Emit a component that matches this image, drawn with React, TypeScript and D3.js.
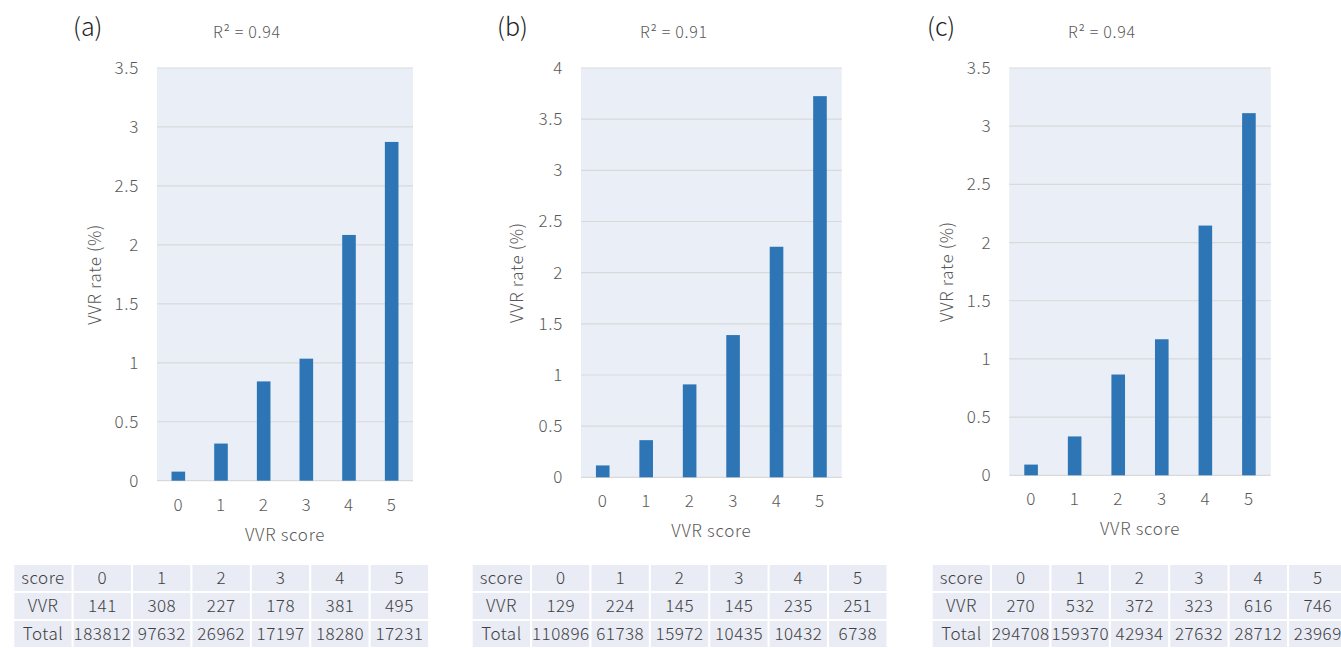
import React, {useEffect, useRef} from 'react';
import * as d3 from 'd3';

// VVR score categories
const scores = ['0', '1', '2', '3', '4', '5'];

// VVR rate (%) per score
const rateA = [0.077, 0.315, 0.842, 1.035, 2.084, 2.873];
const rateB = [0.116, 0.363, 0.908, 1.390, 2.253, 3.725];
const rateC = [0.092, 0.334, 0.866, 1.169, 2.146, 3.112];

// table rows
const vvrA = [141, 308, 227, 178, 381, 495];
const totalA = [183812, 97632, 26962, 17197, 18280, 17231];
const vvrB = [129, 224, 145, 145, 235, 251];
const totalB = [110896, 61738, 15972, 10435, 10432, 6738];
const vvrC = [270, 532, 372, 323, 616, 746];
const totalC = [294708, 159370, 42934, 27632, 28712, 23969];

const panelLabels = ['(a)', '(b)', '(c)'];
const r2Labels = ['0.94', '0.91', '0.94'];
const yMaxes = [3.5, 4, 3.5];

const FONT = '"Noto Sans CJK JP", "Noto Sans", sans-serif';
const GREY = '#595959';

// layout of each panel (pixels)
const layout = [
    {x0: 157, x1: 413, top: 68, bottom: 480.7, lab: 73, r2: 213, ytitle: 95, tx: 13.3},
    {x0: 581, x1: 841.7, top: 68, bottom: 477.3, lab: 497, r2: 640, ytitle: 517, tx: 471.7},
    {x0: 1009.3, x1: 1270.7, top: 68, bottom: 475.3, lab: 927, r2: 1068, ytitle: 947, tx: 931.7}
];

// shared text styling
function styleText(sel, size, color, spacing = 0.7) {
    return sel.attr('font-family', FONT)
        .attr('font-size', size)
        .attr('font-weight', 300)
        .attr('letter-spacing', spacing)
        .attr('fill', color);
}

export default function App() {
    const ref = useRef(null);

    useEffect(() => {
        document.body.style.margin = '0';
        const svg = d3.select(ref.current);
        svg.selectAll('*').remove();

        const rates = [rateA, rateB, rateC];
        const vvrs = [vvrA, vvrB, vvrC];
        const totals = [totalA, totalB, totalC];

        layout.forEach((L, p) => {
            const g = svg.append('g');
            const x = d3.scaleBand().domain(scores).range([L.x0, L.x1]);
            const y = d3.scaleLinear().domain([0, yMaxes[p]]).range([L.bottom, L.top]);

            // plot background
            g.append('rect')
                .attr('x', L.x0).attr('y', L.top)
                .attr('width', L.x1 - L.x0).attr('height', L.bottom - L.top)
                .attr('fill', '#E9EEF7');

            const ticks = d3.range(0, yMaxes[p] + 0.01, 0.5);
            g.selectAll('line.grid')
                .data(ticks)
                .enter().append('line')
                .attr('x1', L.x0).attr('x2', L.x1)
                .attr('y1', d => y(d)).attr('y2', d => y(d))
                .attr('stroke', '#D9D9D9').attr('stroke-width', 1.2);

            styleText(g.selectAll('text.ytick')
                .data(ticks)
                .enter().append('text')
                .attr('x', L.x0 - 18).attr('y', d => y(d))
                .attr('dy', '0.35em')
                .attr('text-anchor', 'end'), 17, GREY)
                .text(d => d3.format('~g')(d));

            const bw = 13.6;
            g.selectAll('rect.bar')
                .data(rates[p])
                .enter().append('rect')
                .attr('x', (d, i) => x(scores[i]) + x.bandwidth() / 2 - bw / 2)
                .attr('y', d => y(d))
                .attr('width', bw)
                .attr('height', d => y(0) - y(d))
                .attr('fill', '#2E75B6');

            styleText(g.selectAll('text.xtick')
                .data(scores)
                .enter().append('text')
                .attr('x', d => x(d) + x.bandwidth() / 2)
                .attr('y', L.bottom + 24)
                .attr('dy', '0.35em')
                .attr('text-anchor', 'middle'), 17, GREY)
                .text(d => d);

            styleText(g.append('text')
                .attr('x', (L.x0 + L.x1) / 2).attr('y', L.bottom + 54)
                .attr('dy', '0.35em').attr('text-anchor', 'middle'), 17, GREY)
                .text('VVR score');

            styleText(g.append('text')
                .attr('transform', `translate(${L.ytitle},${(L.top + L.bottom) / 2}) rotate(-90)`)
                .attr('dy', '0.35em').attr('text-anchor', 'middle'), 17, GREY)
                .text('VVR rate (%)');

            styleText(g.append('text')
                .attr('x', L.lab).attr('y', 27)
                .attr('dy', '0.35em'), 25, '#222', 0)
                .text(panelLabels[p]);

            styleText(g.append('text')
                .attr('x', L.r2).attr('y', 32)
                .attr('dy', '0.35em'), 16, GREY)
                .text('R² = ' + r2Labels[p]);

            // table
            const rows = [
                ['score', ...scores],
                ['VVR', ...vvrs[p].map(String)],
                ['Total', ...totals[p].map(String)]
            ];
            const cw = 59.4, ch = 28, ty = 564;
            rows.forEach((row, r) => {
                row.forEach((cell, c) => {
                    g.append('rect')
                        .attr('x', L.tx + c * cw).attr('y', ty + r * ch)
                        .attr('width', cw).attr('height', ch)
                        .attr('fill', '#E9EBF5')
                        .attr('stroke', '#fff').attr('stroke-width', 2);
                    styleText(g.append('text')
                        .attr('x', L.tx + c * cw + cw / 2).attr('y', ty + r * ch + ch / 2)
                        .attr('dy', '0.35em').attr('text-anchor', 'middle'), 17, '#404040', 0.5)
                        .text(cell);
                });
            });
        });
    }, []);

    return (
        <svg xmlns="http://www.w3.org/2000/svg" ref={ref} width={1341} height={648}
             style={{display: 'block', background: '#fff'}}/>
    );
}
